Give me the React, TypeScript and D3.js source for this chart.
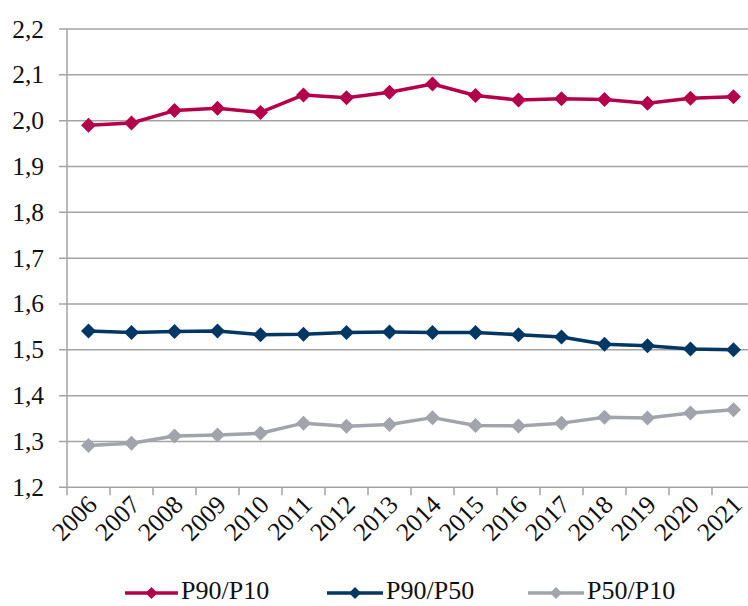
import React from "react";
import * as d3 from "d3";

const years = ["2006", "2007", "2008", "2009", "2010", "2011", "2012", "2013", "2014", "2015", "2016", "2017", "2018", "2019", "2020", "2021"];
const p90p10 = [1.99, 1.995, 2.022, 2.027, 2.018, 2.056, 2.05, 2.062, 2.08, 2.055, 2.045, 2.048, 2.046, 2.038, 2.049, 2.052];
const p90p50 = [1.541, 1.538, 1.54, 1.541, 1.533, 1.534, 1.538, 1.539, 1.538, 1.538, 1.533, 1.528, 1.512, 1.509, 1.502, 1.5];
const p50p10 = [1.291, 1.296, 1.312, 1.314, 1.318, 1.34, 1.333, 1.337, 1.352, 1.335, 1.334, 1.34, 1.353, 1.351, 1.362, 1.369];
const yTicks = [1.2, 1.3, 1.4, 1.5, 1.6, 1.7, 1.8, 1.9, 2.0, 2.1, 2.2];

const seriesList = [
  { name: "P90/P10", values: p90p10, color: "#B4004B" },
  { name: "P90/P50", values: p90p50, color: "#003763" },
  { name: "P50/P10", values: p50p10, color: "#A1A4AB" },
];

const W = 748;
const H = 606;
const left = 67;
const right = 755;
const top = 29;
const bottom = 487.3;
const textStyle = { fontFamily: "'Times New Roman', Tinos, 'Liberation Serif', 'DejaVu Serif', serif" };

const diamond = (cx: number, cy: number, r: number) =>
  `M${cx},${cy - r}L${cx + r},${cy}L${cx},${cy + r}L${cx - r},${cy}Z`;

export default function App() {
  const x = d3.scaleBand<string>().domain(years).range([left, right]).padding(0);
  const y = d3.scaleLinear().domain([1.2, 2.2]).range([bottom, top]);
  const cx = (yr: string) => (x(yr) as number) + x.bandwidth() / 2;
  const line = d3
    .line<number>()
    .x((_, i) => cx(years[i]))
    .y((v) => y(v));
  const fmt = (v: number) => v.toFixed(1).replace(".", ",");

  const legendItems = [
    { lx: 125, lx2: 178, tx: 181 },
    { lx: 327, lx2: 383, tx: 386 },
    { lx: 528, lx2: 584, tx: 587 },
  ];

  return (
    <svg
      width={W}
      height={H}
      style={{ position: "absolute", left: 0, top: 0, background: "#fff" }}
    >
      {/* horizontal gridlines */}
      {yTicks.map((t) => (
        <line key={t} x1={left - 8} x2={right} y1={y(t)} y2={y(t)} stroke="#A3A3A3" strokeWidth={1.5} />
      ))}
      {/* y axis */}
      <line x1={left} x2={left} y1={top} y2={bottom + 8} stroke="#A3A3A3" strokeWidth={1.5} />
      {yTicks.map((t) => (
        <text key={t} x={44} y={y(t) + 8.5} textAnchor="end" fontSize={25.5} fill="#111" style={textStyle}>
          {fmt(t)}
        </text>
      ))}
      {/* x ticks */}
      {years.map((yr) => (
        <line key={yr} x1={(x(yr) as number) + x.bandwidth()} x2={(x(yr) as number) + x.bandwidth()} y1={bottom} y2={bottom + 8} stroke="#A3A3A3" strokeWidth={1.5} />
      ))}
      {years.map((yr) => (
        <text
          key={yr}
          transform={`translate(${cx(yr) + 10},${bottom + 19}) rotate(-45)`}
          textAnchor="end"
          fontSize={25.5}
          fill="#111"
          style={textStyle}
        >
          {yr}
        </text>
      ))}
      {/* series */}
      {seriesList.map((s) => (
        <g key={s.name}>
          <path d={line(s.values) || ""} fill="none" stroke={s.color} strokeWidth={3.5} strokeLinejoin="round" />
          {s.values.map((v, i) => (
            <path key={i} d={diamond(cx(years[i]), y(v), 7.5)} fill={s.color} />
          ))}
        </g>
      ))}
      {/* legend */}
      {seriesList.map((s, i) => {
        const it = legendItems[i];
        const ly = 593;
        return (
          <g key={s.name}>
            <line x1={it.lx} x2={it.lx2} y1={ly} y2={ly} stroke={s.color} strokeWidth={3.5} />
            <path d={diamond((it.lx + it.lx2) / 2, ly, 6)} fill={s.color} />
            <text x={it.tx} y={599} fontSize={26} fill="#111" style={textStyle}>
              {s.name}
            </text>
          </g>
        );
      })}
    </svg>
  );
}
